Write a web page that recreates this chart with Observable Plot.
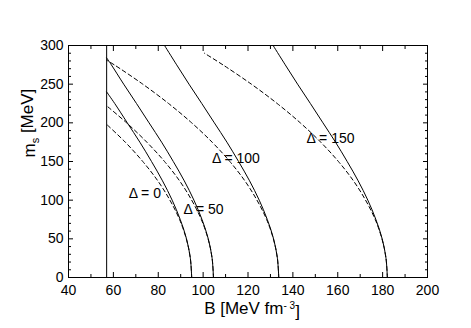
<!DOCTYPE html>
<html><head><meta charset="utf-8">
<script src="https://cdn.jsdelivr.net/npm/d3@7"></script>
<script src="https://cdn.jsdelivr.net/npm/@observablehq/plot@0.6"></script>
<style>
html,body{margin:0;padding:0;background:#fff;}
#chart{width:471px;height:328px;}
</style></head><body><div id="chart"></div>
<script>
// ---- data (B in MeV fm^-3, m_s in MeV) ----
const limitB = 57;               // vertical line

const solid0Ms   = [0,25,50,75,100,125,150,175,200,225,240];
const solid0B    = [94.9,94.3,92.6,89.8,86.2,81.9,77.0,71.8,66.2,60.6,57.0];
const solid50Ms  = [0,25,50,75,100,125,150,175,200,225,250,275,284];
const solid50B   = [104.6,104.0,102.3,99.5,95.9,91.6,86.7,81.5,75.9,70.3,64.6,59.1,57.0];
const solid100Ms = [0,25,50,75,100,125,150,175,200,225,250,275,300];
const solid100B  = [133.7,133.1,131.4,128.6,125.0,120.7,115.8,110.6,105.0,99.4,93.7,88.2,82.8];
const solid150Ms = [0,25,50,75,100,125,150,175,200,225,250,275,300];
const solid150B  = [182.1,181.5,179.8,177.0,173.4,169.1,164.2,159.0,153.4,147.8,142.1,136.6,131.2];

const dashed0Ms   = [0,25,50,75,100,125,150,175,198];
const dashed0B    = [94.9,94.3,92.5,89.5,85.2,79.8,73.1,65.3,57.0];
const dashed50Ms  = [0,25,50,75,100,125,150,175,200,222];
const dashed50B   = [104.6,104.0,102.2,99.2,94.9,89.5,82.8,74.9,65.9,57.0];
const dashed100Ms = [0,25,50,75,100,125,150,175,200,225,250,275,281];
const dashed100B  = [133.7,133.1,131.3,128.3,124.0,118.6,111.9,104.0,94.9,84.6,73.1,60.4,57.0];
const dashed150Ms = [0,25,50,75,100,125,150,175,200,225,250,275,290];
const dashed150B  = [182.1,181.5,179.7,176.7,172.4,167.0,160.3,152.4,143.3,133.0,121.5,108.8,100.6];

const labelTexts = ["Δ = 0","Δ = 50","Δ = 100","Δ = 150"];
const labelB     = [74.0, 100.2, 114.6, 156.8];
const labelMs    = [109, 88, 154.5, 180];

const xMajor = [40,60,80,100,120,140,160,180,200];
const xMinor = [50,70,90,110,130,150,170,190];
const yMajor = [0,50,100,150,200,250,300];
const yMinor = [10,20,30,40,60,70,80,90,110,120,130,140,160,170,180,190,210,220,230,240,260,270,280,290];

// ---- build tables ----
function rowsOf(name, ms, bs) { return ms.map((m, i) => ({curve: name, m, B: bs[i]})); }
const solidRows = [
  ...rowsOf("s0", solid0Ms, solid0B), ...rowsOf("s50", solid50Ms, solid50B),
  ...rowsOf("s100", solid100Ms, solid100B), ...rowsOf("s150", solid150Ms, solid150B)
];
const dashedRows = [
  ...rowsOf("d0", dashed0Ms, dashed0B), ...rowsOf("d50", dashed50Ms, dashed50B),
  ...rowsOf("d100", dashed100Ms, dashed100B), ...rowsOf("d150", dashed150Ms, dashed150B)
];
const labels = labelTexts.map((t, i) => ({t, B: labelB[i], m: labelMs[i]}));

const fig = Plot.plot({
  width: 471, height: 328,
  marginLeft: 68, marginRight: 44, marginTop: 45, marginBottom: 51,
  style: {fontFamily: "'Liberation Sans', Arial, sans-serif", fontSize: "14px", background: "white", color: "black", overflow: "visible"},
  x: {domain: [40, 200]},
  y: {domain: [0, 300]},
  marks: [
    Plot.axisX(xMajor, {anchor: "bottom", tickSize: 5, dy: -5, fill: "none", label: null}),
    Plot.axisX(xMinor, {anchor: "bottom", tickSize: 3, dy: -3, fill: "none", label: null}),
    Plot.axisX(xMajor, {anchor: "top", tickSize: 5, dy: 5, fill: "none", label: null}),
    Plot.axisX(xMinor, {anchor: "top", tickSize: 3, dy: 3, fill: "none", label: null}),
    Plot.axisY(yMajor, {anchor: "left", tickSize: 5, dx: 5, fill: "none", label: null}),
    Plot.axisY(yMinor, {anchor: "left", tickSize: 3, dx: 3, fill: "none", label: null}),
    Plot.axisY(yMajor, {anchor: "right", tickSize: 5, dx: -5, fill: "none", label: null}),
    Plot.axisY(yMinor, {anchor: "right", tickSize: 3, dx: -3, fill: "none", label: null}),
    Plot.axisX(xMajor, {anchor: "bottom", tickSize: 0, tickPadding: 8, label: null}),
    Plot.axisY(yMajor, {anchor: "left", tickSize: 0, tickPadding: 5, label: null}),
    Plot.frame({stroke: "black"}),
    Plot.ruleX([limitB], {stroke: "black", strokeWidth: 1}),
    Plot.line(solidRows, {x: "B", y: "m", z: "curve", curve: "catmull-rom", stroke: "black", strokeWidth: 1}),
    Plot.line(dashedRows, {x: "B", y: "m", z: "curve", curve: "catmull-rom", stroke: "black", strokeWidth: 1, strokeDasharray: "4,3"}),
    Plot.text(labels, {x: "B", y: "m", text: "t", fill: "black", fontSize: 14}),
    Plot.text(["B [MeV fm-3]"], {frameAnchor: "bottom", dy: 36, dx: 4, text: d => d, fontSize: 17, fill: "black"}),
    Plot.text(["m_s [MeV]"], {frameAnchor: "left", dx: -39, dy: -4, rotate: -90, text: d => d, fontSize: 17, fill: "black"})
  ]
});
document.getElementById("chart").appendChild(fig);

// sub/superscripts in axis titles
const svg = d3.select(fig);
svg.selectAll("text").each(function() {
  const el = d3.select(this);
  const s = this.textContent;
  if (s === "B [MeV fm-3]") {
    el.text(null);
    el.append("tspan").text("B [MeV fm");
    el.append("tspan").attr("dy", "-0.5em").attr("font-size", "10px").text("- 3");
    el.append("tspan").attr("dy", "0.5em").text("]");
  } else if (s === "m_s [MeV]") {
    el.text(null);
    el.append("tspan").text("m");
    el.append("tspan").attr("dy", "0.35em").attr("font-size", "11px").text("s");
    el.append("tspan").attr("dy", "-0.35em").text(" [MeV]");
  }
});
</script>
</body></html>
